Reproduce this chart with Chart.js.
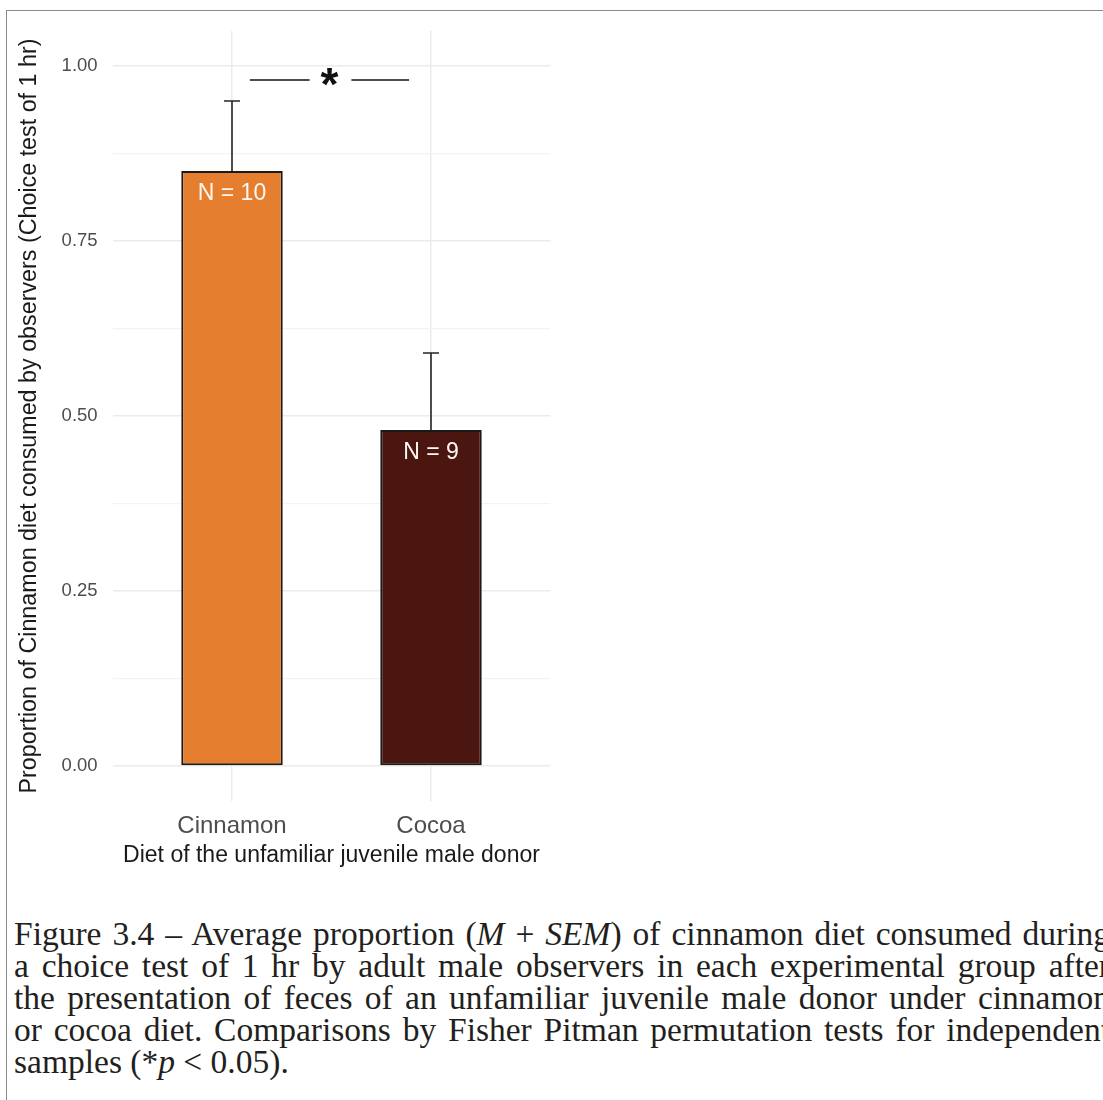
<!DOCTYPE html>
<html>
<head>
<meta charset="utf-8">
<title>Cinnamon diet consumption by observers</title>
<script src="https://cdn.jsdelivr.net/npm/chart.js@4/dist/chart.umd.min.js"></script>
<style>
  html, body { margin: 0; padding: 0; background: #fff; width: 1103px; height: 1100px; overflow: hidden; }
  body { position: relative; }
  .frame { position: absolute; left: 6px; top: 10px; width: 1300px; height: 1300px;
           border: 1.5px solid #8a8a8a; box-sizing: border-box; }
  #chart { position: absolute; left: 0; top: 0; }
  .caption { position: absolute; left: 14px; top: 918px; width: 1096px;
             font-family: 'Liberation Serif', 'Times New Roman', serif; font-size: 33.5px;
             line-height: 32px; color: #231f20; }
  .caption div { text-align: justify; text-align-last: justify; }
  .caption div.last { text-align-last: left; }
</style>
</head>
<body>
<div class="frame"></div>
<canvas id="chart" width="560" height="880"></canvas>
<div class="caption">
  <div>Figure 3.4 – Average proportion (<i>M</i> + <i>SEM</i>) of cinnamon diet consumed during</div>
  <div>a choice test of 1 hr by adult male observers in each experimental group after</div>
  <div>the presentation of feces of an unfamiliar juvenile male donor under cinnamon</div>
  <div>or cocoa diet. Comparisons by Fisher Pitman permutation tests for independent</div>
  <div class="last">samples (*<i>p</i> &lt; 0.05).</div>
</div>
<script>
// Groups (donor diet) and their summary statistics
const categories = ['Cinnamon', 'Cocoa'];
const meanProportion = [0.85, 0.48];
const semProportion = [0.10, 0.11];
const sampleSizes = [10, 9];

// Y axis labelled ticks
const yTickValues = [0, 0.25, 0.5, 0.75, 1];
const yTickLabels = ['0.00', '0.25', '0.50', '0.75', '1.00'];

// Significance marker between the two groups (x in category units)
const sigLevel = 0.98;
const sigLabel = '*';
const sigSegments = [[1.09, 1.39], [1.6, 1.89]];
const sigLabelX = 1.49;

const barColors = ['#E67E30', '#4C1610'];

// minor grid lines sit halfway between the labelled ticks
const yMinor = yTickValues.slice(1).map((v, i) => (v + yTickValues[i]) / 2);
const yGrid = [...yTickValues, ...yMinor].sort((a, b) => a - b);

const SANS = "'Liberation Sans', Arial, sans-serif";

// Error bars, N labels and the significance bracket
const overlayPlugin = {
  id: 'barOverlay',
  afterDatasetsDraw(chart, args, opts) {
    const { ctx, scales: { x, y } } = chart;
    ctx.save();

    // mean + SEM error bars
    ctx.strokeStyle = opts.errorColor;
    ctx.lineWidth = opts.errorWidth;
    meanProportion.forEach((m, i) => {
      const px = x.getPixelForValue(i + 1);
      const y0 = y.getPixelForValue(m);
      const y1 = y.getPixelForValue(m + semProportion[i]);
      ctx.beginPath();
      ctx.moveTo(px, y0);
      ctx.lineTo(px, y1);
      ctx.moveTo(px - opts.capHalf, y1);
      ctx.lineTo(px + opts.capHalf, y1);
      ctx.stroke();
    });

    // sample sizes inside the bars
    ctx.font = `${opts.labelSize}px ${SANS}`;
    ctx.fillStyle = opts.labelColor;
    ctx.textAlign = 'center';
    ctx.textBaseline = 'middle';
    sampleSizes.forEach((n, i) => {
      ctx.fillText('N = ' + n, x.getPixelForValue(i + 1),
                   y.getPixelForValue(meanProportion[i]) + opts.labelOffset);
    });

    // significance bracket
    const sy = y.getPixelForValue(sigLevel);
    ctx.strokeStyle = opts.sigColor;
    ctx.lineWidth = opts.sigWidth;
    sigSegments.forEach(([a, b]) => {
      ctx.beginPath();
      ctx.moveTo(x.getPixelForValue(a), sy);
      ctx.lineTo(x.getPixelForValue(b), sy);
      ctx.stroke();
    });
    ctx.font = `bold ${opts.sigSize}px ${SANS}`;
    ctx.fillStyle = opts.sigColor;
    ctx.textAlign = 'left';
    ctx.textBaseline = 'alphabetic';
    const m = ctx.measureText(sigLabel);
    const cx = x.getPixelForValue(sigLabelX);
    const cy = sy + opts.sigLift;
    const gx = cx - (m.actualBoundingBoxRight - m.actualBoundingBoxLeft) / 2;
    const gy = cy + (m.actualBoundingBoxAscent - m.actualBoundingBoxDescent) / 2;
    ctx.fillText(sigLabel, gx, gy);

    ctx.restore();
  }
};

const isMajor = v => yTickValues.includes(v);

new Chart(document.getElementById('chart'), {
  type: 'bar',
  data: {
    datasets: [{
      data: categories.map((c, i) => ({ x: i + 1, y: meanProportion[i] })),
      backgroundColor: barColors,
      borderColor: '#1a1a1a',
      borderWidth: 2,
      borderSkipped: false,
      categoryPercentage: 1,
      barPercentage: 0.51
    }]
  },
  options: {
    responsive: false,
    animation: false,
    devicePixelRatio: 1,
    layout: { padding: { top: 31, right: 9.6, bottom: 0, left: 0 } },
    plugins: {
      legend: { display: false },
      tooltip: { enabled: false },
      barOverlay: {
        errorColor: '#262626', errorWidth: 1.6, capHalf: 8,
        labelSize: 23, labelColor: '#fbf6f2', labelOffset: 23,
        sigColor: '#111111', sigWidth: 1.7, sigSize: 46, sigLift: -3
      }
    },
    scales: {
      x: {
        type: 'linear',
        min: 0.4,
        max: 2.6,
        offset: false,
        afterBuildTicks: s => { s.ticks = categories.map((c, i) => ({ value: i + 1 })); },
        afterFit: s => { s.height = 79; },
        ticks: {
          callback: v => categories[v - 1] ?? '',
          font: { family: SANS, size: 24 },
          color: '#4d4d4d',
          padding: 10.6,
          maxRotation: 0,
          autoSkip: false
        },
        grid: { color: '#ebebeb', lineWidth: 1.5, drawTicks: false, offset: false },
        border: { display: false },
        title: {
          display: true,
          text: 'Diet of the unfamiliar juvenile male donor',
          font: { family: SANS, size: 23 },
          color: '#1a1a1a',
          padding: { top: 0, bottom: 11 }
        }
      },
      y: {
        min: -0.05,
        max: 1.05,
        afterBuildTicks: s => { s.ticks = yGrid.map(v => ({ value: v })); },
        afterFit: s => { s.width = 112.6; },
        ticks: {
          callback: v => { const k = yTickValues.indexOf(v); return k >= 0 ? yTickLabels[k] : ''; },
          font: { family: SANS, size: 18.5 },
          color: '#4d4d4d',
          padding: 15,
          autoSkip: false
        },
        grid: {
          color: c => (c.tick && isMajor(c.tick.value)) ? '#ebebeb' : '#f3f3f3',
          lineWidth: c => (c.tick && isMajor(c.tick.value)) ? 1.5 : 1.2,
          drawTicks: false
        },
        border: { display: false },
        title: {
          display: true,
          text: 'Proportion of Cinnamon diet consumed by observers (Choice test of 1 hr)',
          font: { family: SANS, size: 23.3 },
          color: '#1a1a1a',
          padding: { top: 16, bottom: 0 }
        }
      }
    }
  },
  plugins: [overlayPlugin]
});
</script>
</body>
</html>
